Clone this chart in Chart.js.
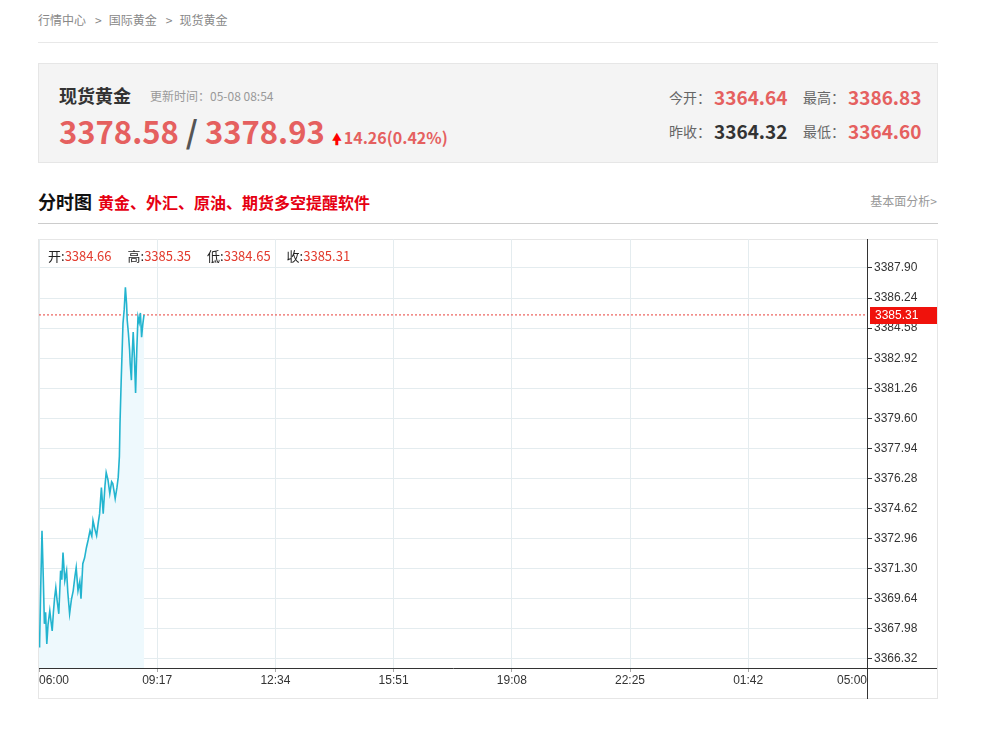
<!DOCTYPE html>
<html>
<head>
<meta charset="utf-8">
<script src="https://cdn.jsdelivr.net/npm/chart.js@4.4.1/dist/chart.umd.min.js"></script>
<style>
  body { margin: 0; background: #fff; font-family: "Noto Sans CJK SC", "Noto Sans", sans-serif; }
  .abs { position: absolute; white-space: nowrap; }
  .crumb { left: 38px; top: 11px; font-size: 12px; color: #888; line-height: 18px; }
  .crumb .sep { margin: 0 7px 0 9px; }
  .rule { left: 38px; width: 900px; height: 1px; background: #e8e8e8; }
  .box { left: 38px; top: 63px; width: 898px; height: 98px; background: #f4f4f4; border: 1px solid #e6e6e6; }
  .name { left: 59px; top: 82px; font-size: 18px; font-weight: bold; color: #333; line-height: 26px; }
  .upd { left: 150px; top: 87px; font-size: 12px; color: #999; line-height: 18px; }
  .big { left: 59px; top: 110px; font-size: 31px; font-weight: bold; color: #e5605f; line-height: 42px; }
  .big .slash { color: #555; }
  .big .chg { font-size: 16px; color: #e5605f; margin-left: 2px; }
  .big .arr { font-size: 15px; color: #f00; }
  .lbl { font-size: 14px; color: #666; line-height: 20px; }
  .val { font-size: 19px; font-weight: bold; color: #e5605f; line-height: 26px; }
  .title { left: 38px; top: 188px; font-size: 18px; font-weight: bold; color: #111; line-height: 26px; }
  .title span { font-size: 16px; color: #e60012; margin-left: 6px; }
  .more { right: 55px; top: 192px; font-size: 12px; color: #999; line-height: 18px; }
  .frame { left: 38px; top: 239px; width: 900px; height: 460px; box-sizing: border-box; border: 1px solid #e6e6e6; }
  .ohlc { left: 48px; top: 247px; font-size: 13px; color: #222; line-height: 18px; }
  .ohlc b { font-weight: normal; color: #e23b2e; margin-right: 16px; }
</style>
</head>
<body>
<div class="abs crumb">行情中心<span class="sep">&gt;</span>国际黄金<span class="sep">&gt;</span>现货黄金</div>
<div class="abs rule" style="top:42px"></div>

<div class="abs box"></div>
<div class="abs name">现货黄金</div>
<div class="abs upd">更新时间：05-08 08:54</div>
<div class="abs big">3378.58<span class="slash"> / </span>3378.93 <span class="arr">&#x1F81D;</span><span class="chg">14.26(0.42%)</span></div>
<div class="abs lbl" style="left:669px;top:87px">今开：</div>
<div class="abs val" style="left:714px;top:84px">3364.64</div>
<div class="abs lbl" style="left:803px;top:87px">最高：</div>
<div class="abs val" style="left:848px;top:84px">3386.83</div>
<div class="abs lbl" style="left:669px;top:121px">昨收：</div>
<div class="abs val" style="left:714px;top:118px;color:#333">3364.32</div>
<div class="abs lbl" style="left:803px;top:121px">最低：</div>
<div class="abs val" style="left:848px;top:118px">3364.60</div>

<div class="abs title">分时图<span>黄金、外汇、原油、期货多空提醒软件</span></div>
<div class="abs more">基本面分析&gt;</div>
<div class="abs rule" style="top:223px;background:#ccc"></div>

<div class="abs frame"></div>
<canvas id="chart" width="900" height="460" class="abs" style="left:38px;top:239px"></canvas>
<div class="abs ohlc">开:<b>3384.66</b>高:<b>3385.35</b>低:<b>3384.65</b>收:<b>3385.31</b></div>

<script>
// minutes after 06:00 and spot gold price
let times = [0, 1, 3, 5, 7, 9, 11, 13, 15, 18, 20, 22, 24, 26, 28, 30, 33, 36, 38, 40,
  43, 46, 48, 51, 54, 57, 60, 62, 65, 68, 70, 73, 76, 79, 82, 85, 88, 90, 93, 96,
  99, 101, 104, 107, 110, 112, 115, 118, 121, 123, 125, 127, 130, 132, 134, 135, 137, 139, 140, 142,
  144, 146, 147, 149, 151, 152, 154, 155, 157, 159, 161, 163, 165, 167, 169, 171, 173, 175];
let prices = [3367.0, 3367.15, 3370.5, 3373.4, 3371.0, 3368.26, 3368.9, 3367.15, 3368.2, 3368.98, 3368.4, 3367.87, 3368.9, 3369.7, 3370.25, 3369.6, 3368.81, 3371.19, 3370.7, 3372.19,
  3370.64, 3371.19, 3370.0, 3368.81, 3369.6, 3370.08, 3370.9, 3371.36, 3370.08, 3370.6, 3369.64, 3371.58, 3371.9, 3372.46, 3372.9, 3373.4, 3373.1, 3373.96, 3373.5, 3373.13,
  3373.9, 3374.34, 3375.78, 3374.34, 3375.9, 3376.61, 3376.2, 3375.45, 3376.1, 3376.0, 3375.6, 3375.17, 3375.8, 3376.34, 3377.5, 3379.32, 3381.7, 3383.8, 3384.86, 3385.6,
  3386.83, 3385.9, 3385.03, 3384.3, 3383.37, 3382.6, 3381.71, 3382.9, 3384.36, 3383.0, 3381.0, 3383.4, 3385.2, 3384.9, 3385.42, 3384.08, 3384.8, 3385.31];

let lastClose = 3385.31;
let yTicks = [3366.32, 3367.98, 3369.64, 3371.30, 3372.96, 3374.62, 3376.28, 3377.94, 3379.60, 3381.26, 3382.92, 3384.58, 3386.24, 3387.90];
let xTickMins = [0, 197, 394, 591, 788, 985, 1182, 1380];
let xTickLabels = ['06:00', '09:17', '12:34', '15:51', '19:08', '22:25', '01:42', '05:00'];

let gridColor = '#e4ecef';
let tickFont = { family: '"Liberation Sans", Arial, sans-serif', size: 12 };

let extras = {
  id: 'extras',
  afterDraw(chart) {
    let c = chart.ctx;
    let a = chart.chartArea;
    let ys = chart.scales.y;
    let xs = chart.scales.x;
    c.save();
    // axis lines running to the frame
    c.strokeStyle = '#333';
    c.lineWidth = 1;
    c.beginPath();
    c.moveTo(Math.round(a.right) + 0.5, a.bottom);
    c.lineTo(Math.round(a.right) + 0.5, chart.height);
    c.moveTo(a.right, Math.round(a.bottom) + 0.5);
    c.lineTo(chart.width - 1, Math.round(a.bottom) + 0.5);
    c.stroke();

    // time labels
    c.fillStyle = '#333';
    c.font = '12px "Liberation Sans", Arial, sans-serif';
    c.textBaseline = 'middle';
    for (let i = 0; i < xTickMins.length; i++) {
      let px = xs.getPixelForValue(xTickMins[i]);
      c.textAlign = i === 0 ? 'left' : (i === xTickMins.length - 1 ? 'right' : 'center');
      c.fillText(xTickLabels[i], px, a.bottom + 13);
    }

    // last price marker
    let py = Math.round(ys.getPixelForValue(lastClose));
    c.fillStyle = '#f0120c';
    c.fillRect(a.right + 3, py - 8, chart.width - a.right - 4, 17);
    c.fillStyle = '#fff';
    c.textAlign = 'left';
    c.fillText(lastClose.toFixed(2), a.right + 8, py + 1);
    c.restore();
  }
};

let ctx = document.getElementById('chart').getContext('2d');
let myChart = new Chart(ctx, {
  type: 'line',
  data: {
    datasets: [
      {
        data: times.map((t, i) => ({ x: t, y: prices[i] })),
        borderColor: '#23b4cf',
        borderWidth: 1.6,
        backgroundColor: '#eef9fd',
        fill: 'start',
        pointRadius: 0,
        tension: 0,
      },
      {
        data: [{ x: 0, y: lastClose }, { x: 1380, y: lastClose }],
        borderColor: '#e8413a',
        borderWidth: 1,
        borderDash: [2, 2],
        pointRadius: 0,
        fill: false,
      },
    ],
  },
  options: {
    responsive: false,
    animation: false,
    devicePixelRatio: 1,
    layout: { padding: { left: 1, top: 0, right: 0, bottom: 0 } },
    plugins: { legend: { display: false }, tooltip: { enabled: false } },
    scales: {
      x: {
        type: 'linear',
        min: 0,
        max: 1380,
        afterBuildTicks: (s) => { s.ticks = xTickMins.map((v) => ({ value: v })); },
        afterFit: (s) => { s.height = 31; s.paddingLeft = 0; s.paddingRight = 0; },
        ticks: { display: false },
        grid: { color: gridColor, tickLength: 4, tickColor: '#aaa' },
        border: { color: '#333' },
      },
      y: {
        position: 'right',
        min: 3365.82,
        max: 3389.5,
        afterBuildTicks: (s) => { s.ticks = yTicks.map((v) => ({ value: v })); },
        afterFit: (s) => { s.width = 71; s.paddingTop = 0; s.paddingBottom = 0; },
        ticks: {
          font: tickFont,
          color: '#333',
          padding: 2,
          callback: (v) => Number(v).toFixed(2),
        },
        grid: { color: gridColor, tickLength: 5, tickColor: '#333' },
        border: { color: '#333' },
      },
    },
  },
  plugins: [extras],
});
</script>
</body>
</html>
